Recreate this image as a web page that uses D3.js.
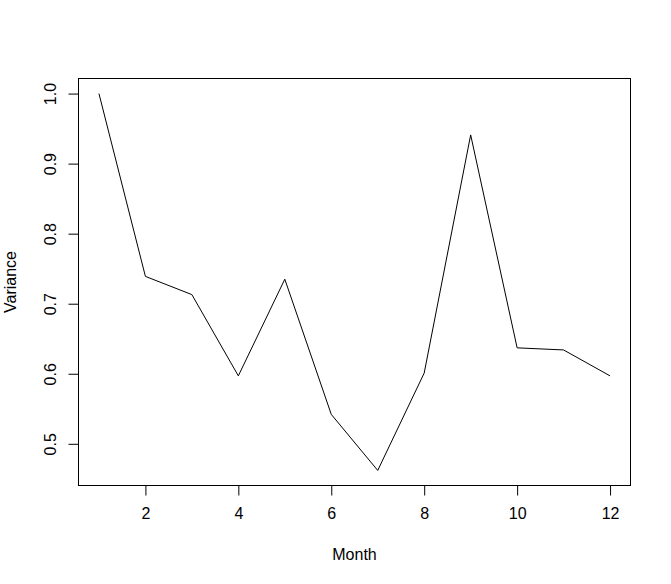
<!DOCTYPE html>
<html>
<head>
<meta charset="utf-8">
<script src="https://cdn.jsdelivr.net/npm/d3@7"></script>
<style>
  html, body { margin: 0; padding: 0; background: #fff; }
  text { font-family: "Liberation Sans", Arial, Helvetica, sans-serif; fill: #000; }
</style>
</head>
<body>
<svg id="chart" width="671" height="584"></svg>
<script>
const months = [1, 2, 3, 4, 5, 6, 7, 8, 9, 10, 11, 12];
const variance = [1.0, 0.739, 0.713, 0.597, 0.735, 0.542, 0.462, 0.601, 0.941, 0.637, 0.634, 0.597];
const xTicks = [2, 4, 6, 8, 10, 12];
const yTicks = [0.5, 0.6, 0.7, 0.8, 0.9, 1.0];
const xLabel = "Month";
const yLabel = "Variance";

const svg = d3.select("#chart");
const pLeft = 78.5, pRight = 630.5, pTop = 78.5, pBottom = 485.5;

function padded(ext) {
  const d = (ext[1] - ext[0]) * 0.04;
  return [ext[0] - d, ext[1] + d];
}
const x = d3.scaleLinear().domain(padded(d3.extent(months))).range([pLeft, pRight]);
const y = d3.scaleLinear().domain(padded(d3.extent(variance))).range([pBottom, pTop]);

// box
svg.append("rect")
  .attr("x", pLeft).attr("y", pTop)
  .attr("width", pRight - pLeft).attr("height", pBottom - pTop)
  .attr("fill", "none").attr("stroke", "#000").attr("stroke-width", 1);

// x axis
const xAxis = d3.axisBottom(x).tickValues(xTicks).tickSize(10).tickPadding(12).tickFormat(d3.format("d"));
const gx = svg.append("g").attr("transform", `translate(0,${pBottom})`).call(xAxis);
gx.select(".domain").attr("d", `M${x(xTicks[0])},0H${x(xTicks[xTicks.length-1])}`).attr("stroke", "#000");
gx.selectAll("text").attr("font-size", 16).attr("font-family", "Liberation Sans, Arial, sans-serif");

// y axis
const yAxis = d3.axisLeft(y).tickValues(yTicks).tickSize(10).tickFormat(d3.format(".1f"));
const gy = svg.append("g").attr("transform", `translate(${pLeft},0)`).call(yAxis);
gy.select(".domain").attr("d", `M0,${y(yTicks[0])}V${y(yTicks[yTicks.length-1])}`).attr("stroke", "#000");
gy.selectAll(".tick text")
  .attr("font-size", 16).attr("font-family", "Liberation Sans, Arial, sans-serif")
  .attr("x", null).attr("dy", null)
  .attr("text-anchor", "middle")
  .attr("transform", "translate(-23,0) rotate(-90)");

// line
const line = d3.line().x((d, i) => x(months[i])).y(d => y(d));
svg.append("path")
  .datum(variance)
  .attr("d", line)
  .attr("fill", "none").attr("stroke", "#000").attr("stroke-width", 1);

// labels
svg.append("text")
  .attr("x", (pLeft + pRight) / 2).attr("y", 560)
  .attr("text-anchor", "middle").attr("font-size", 16)
  .text(xLabel);
svg.append("text")
  .attr("transform", `translate(16,${(pTop + pBottom) / 2}) rotate(-90)`)
  .attr("text-anchor", "middle").attr("font-size", 16)
  .text(yLabel);
</script>
</body>
</html>
